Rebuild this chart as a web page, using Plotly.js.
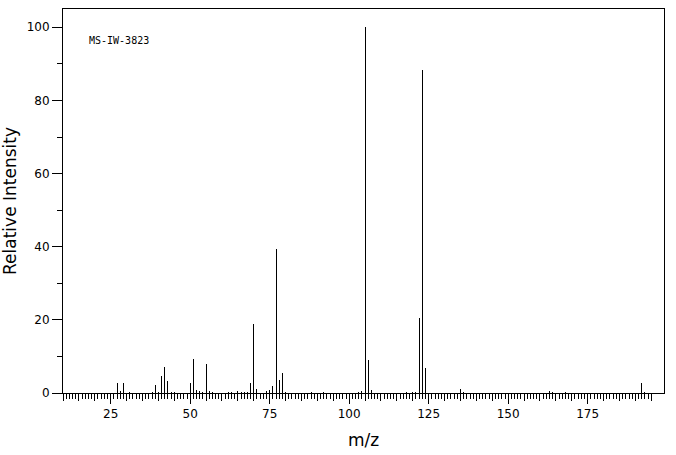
<!DOCTYPE html>
<html>
<head>
<meta charset="utf-8">
<script src="https://cdn.plot.ly/plotly-3.0.1.min.js"></script>
<style>
  html, body { margin: 0; padding: 0; background: #fff; }
  #chart { width: 676px; height: 455px; }
  .scatterlayer path { shape-rendering: crispEdges; }
</style>
</head>
<body>
<div id="chart"></div>
<script>
// m/z values of the peaks
const mz = [27, 28, 29, 31, 38, 39, 40, 41, 42, 43, 44, 45,
            50, 51, 52, 53, 54, 55, 56, 57, 62, 63, 65, 66, 67, 68,
            69, 70, 71, 74, 75, 76, 77, 78, 79, 80, 88, 92,
            103, 104, 105, 106, 107, 118, 120, 121, 122, 123, 124,
            135, 136, 163, 164, 168, 192, 193];
// relative intensities (%)
const intensity = [2.6, 0.6, 2.6, 0.4, 0.4, 2.3, 0.4, 4.7, 7.2, 3.2, 0.4, 0.4,
                   2.6, 9.4, 0.9, 0.6, 0.4, 7.8, 0.6, 0.4, 0.4, 0.4, 0.6, 0.4, 0.4, 0.4,
                   2.6, 19.0, 1.2, 0.6, 0.9, 2.0, 39.3, 3.5, 5.6, 0.4, 0.3, 0.3,
                   0.4, 0.6, 100, 9.1, 0.9, 0.4, 0.4, 0.4, 20.4, 88.3, 6.9,
                   1.2, 0.4, 0.6, 0.4, 0.4, 2.6, 0.4];

const xMajorTicks = [25, 50, 75, 100, 125, 150, 175];
const xMajorLabels = ['25', '50', '75', '100', '125', '150', '175'];
const yMajorTicks = [0, 20, 40, 60, 80, 100];
const yMajorLabels = ['0', '20', '40', '60', '80', '100'];
const sampleLabel = 'MS-IW-3823';

// build stick coordinates from the data
const sx = [], sy = [];
for (let i = 0; i < mz.length; i++) {
  sx.push(mz[i], mz[i], null);
  sy.push(0, intensity[i], null);
}
// tick positions
const xMinor = [], xMid = [];
for (let v = 10; v <= 195; v++) {
  xMinor.push(v);
  if (v % 5 === 0) xMid.push(v);
}

const black = '#000000';
const tickFont = {family: 'DejaVu Sans, sans-serif', size: 12, color: black};
const xRange = [10, 199];

const data = [
  {
    type: 'scatter', mode: 'lines', x: sx, y: sy,
    line: {color: black, width: 1}, hoverinfo: 'skip', showlegend: false,
    xaxis: 'x', yaxis: 'y'
  },
  {
    type: 'scatter', mode: 'markers', x: [], y: [],
    xaxis: 'x2', yaxis: 'y', showlegend: false, hoverinfo: 'skip'
  }
];

const layout = {
  width: 676, height: 455,
  margin: {l: 63, r: 12, t: 9, b: 62, pad: 0},
  paper_bgcolor: '#ffffff', plot_bgcolor: '#ffffff',
  showlegend: false,
  xaxis: {
    range: xRange, showgrid: false, zeroline: false,
    showline: true, mirror: true, linecolor: black, linewidth: 1,
    ticks: 'outside', ticklen: 10, tickwidth: 1, tickcolor: black,
    tickmode: 'array', tickvals: xMajorTicks, ticktext: xMajorLabels,
    tickfont: tickFont,
    minor: {ticks: 'outside', ticklen: 5, tickwidth: 1, tickcolor: black,
            tickmode: 'array', tickvals: xMinor, showgrid: false},
    title: {text: 'm/z', font: {family: 'DejaVu Sans, sans-serif', size: 17, color: black}, standoff: 13}
  },
  xaxis2: {
    range: xRange, overlaying: 'x', anchor: 'y', side: 'bottom',
    showgrid: false, zeroline: false, showline: false,
    ticks: 'outside', ticklen: 7, tickwidth: 1, tickcolor: black,
    tickmode: 'array', tickvals: xMid, showticklabels: false
  },
  yaxis: {
    range: [0, 105], showgrid: false, zeroline: false,
    showline: true, mirror: true, linecolor: black, linewidth: 1,
    ticks: 'outside', ticklen: 10, tickwidth: 1, tickcolor: black,
    tickmode: 'array', tickvals: yMajorTicks, ticktext: yMajorLabels,
    tickfont: tickFont,
    minor: {ticks: 'outside', ticklen: 5, tickwidth: 1, tickcolor: black,
            dtick: 10, tick0: 0, showgrid: false},
    title: {text: 'Relative Intensity', font: {family: 'DejaVu Sans, sans-serif', size: 17, color: black}, standoff: 6}
  },
  annotations: [{
    text: sampleLabel, xref: 'paper', yref: 'paper',
    x: 0.0394, y: 0.917, xanchor: 'left', yanchor: 'middle',
    showarrow: false,
    font: {family: 'DejaVu Sans Mono, monospace', size: 10, color: black}
  }]
};

Plotly.newPlot('chart', data, layout, {staticPlot: true, displayModeBar: false});
</script>
</body>
</html>
